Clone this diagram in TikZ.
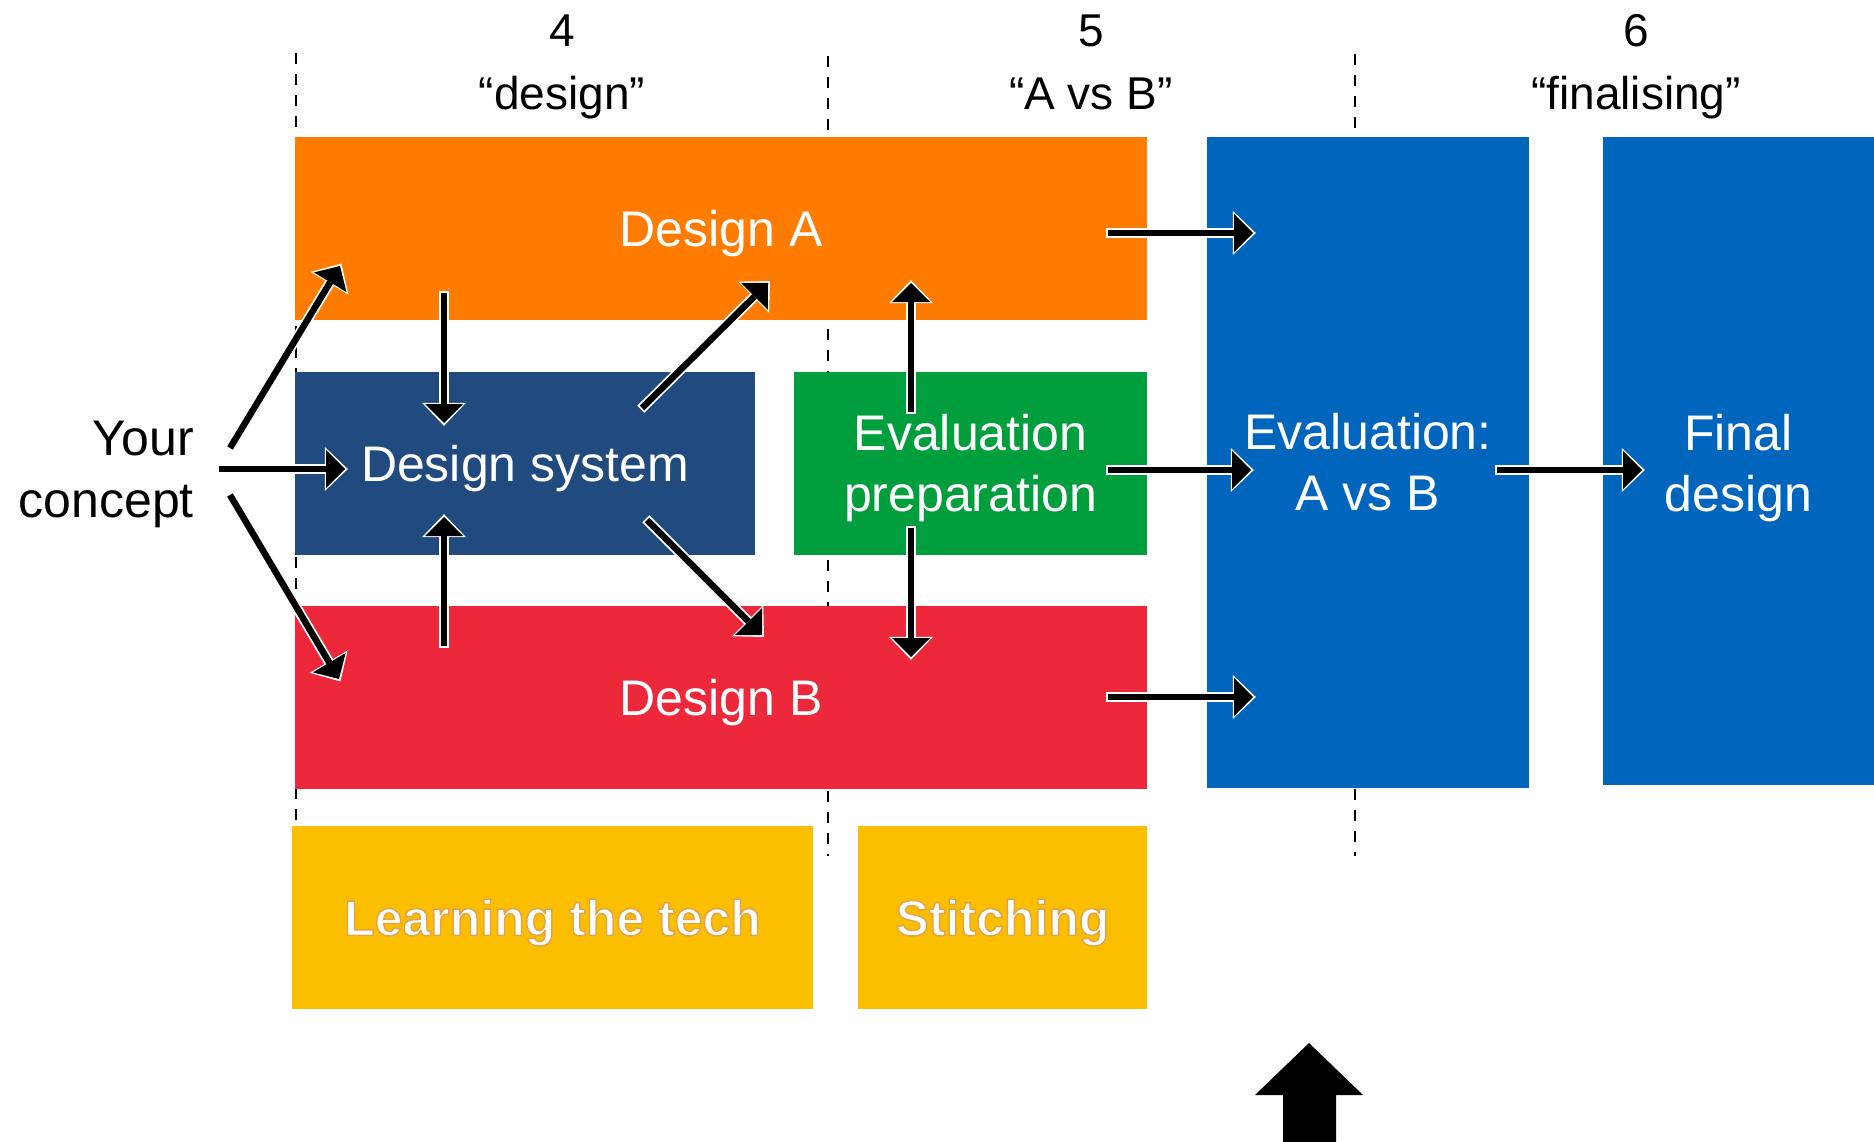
\documentclass[tikz,border=0pt]{standalone}
\usepackage{fontspec}
\setmainfont{Liberation Sans}
\usetikzlibrary{arrows.meta}

\definecolor{cOrange}{HTML}{FF7C00}
\definecolor{cNavy}{HTML}{214A7E}
\definecolor{cGreen}{HTML}{009E3D}
\definecolor{cRed}{HTML}{EE283B}
\definecolor{cBlue}{HTML}{0065BD}
\definecolor{cYellow}{HTML}{FCBF00}

% raise the first line so the label sits a little lower in its block
\newcommand\liftto[1]{\rule{0pt}{#1}}
% keep descender room on the last line of a heading
\newcommand\lowroom{\rule[-10pt]{0pt}{10pt}}
% white lettering with a thin warm outline
\newcommand\outlined[1]{\special{pdf:literal direct 0.9 0.64 0.28 RG 2 Tr 1.5 w}#1\special{pdf:literal direct 0 Tr}}

\tikzset{
  box/.style={inner sep=0pt, outer sep=0pt, draw=none, text=white,
    align=center, font=\fontsize{50}{52}\selectfont},
  tag/.style={inner sep=0pt, outer sep=0pt, text=black, align=center,
    font=\fontsize{46}{63}\selectfont},
  phase/.style={draw=black, line width=2.5pt, dash pattern=on 11pt off 10pt},
  flow/.style={draw=black, line width=6.5pt, line cap=butt,
    -{Triangle[width=38pt,length=19pt,line width=0pt]},
    preaction={draw=white, line width=10pt, line cap=butt,
      shorten <=-1.7pt, shorten >=-2.8pt,
      -{Triangle[width=44pt,length=23pt,line width=0pt]}}},
}

\begin{document}
\begin{tikzpicture}[x=1pt, y=-1pt]
\path[use as bounding box] (0,0) rectangle (1874,1142);

% phase boundaries
\coordinate (p1t) at (296,53);   \coordinate (p1b) at (296,822);
\coordinate (p2t) at (828,56);   \coordinate (p2b) at (828,856);
\coordinate (p3t) at (1355,54);  \coordinate (p3b) at (1355,856);
\draw[phase] (p1t) -- (p1b);
\draw[phase] (p2t) -- (p2b);
\draw[phase] (p3t) -- (p3b);

% phase headings
\node[tag] (h4) at (562,67) {4\\“design”\lowroom};
\node[tag] (h5) at (1091,67) {5\\“A vs B”\lowroom};
\node[tag] (h6) at (1636,67) {6\\“finalising”\lowroom};

% work blocks
\node[box, fill=cOrange, minimum width=852pt, minimum height=183pt] (da) at (721,228.5) {\liftto{46.5pt}Design A};
\node[box, fill=cNavy, minimum width=460pt, minimum height=183pt] (ds) at (525,463.5) {\liftto{46.5pt}Design system};
\node[box, fill=cGreen, minimum width=353pt, minimum height=183pt] (ep) at (970.5,463.5) {\liftto{45.5pt}Evaluation\\[9pt]preparation};
\node[box, fill=cRed, minimum width=852pt, minimum height=183pt] (db) at (721,697.5) {\liftto{46.5pt}Design B};
\node[box, fill=cBlue, minimum width=322pt, minimum height=651pt] (ev) at (1368,462.5) {Evaluation:\\[9pt]A vs B};
\node[box, fill=cBlue, minimum width=271pt, minimum height=648pt] (fd) at (1738.5,461) {\liftto{49.5pt}Final\\[9pt]design};
\node[box, fill=cYellow, minimum width=521pt, minimum height=183pt,
      font=\fontsize{50}{52}\selectfont\bfseries] (lt) at (552.5,917.5) {\liftto{46.5pt}\outlined{Learning the tech}};
\node[box, fill=cYellow, minimum width=289pt, minimum height=183pt,
      font=\fontsize{50}{52}\selectfont\bfseries] (st) at (1002.5,917.5) {\liftto{46.5pt}\outlined{Stitching}};

% starting point
\node[inner sep=0pt, align=right, anchor=east, font=\fontsize{50}{62}\selectfont] (yc) at (194,474) {Your\\concept};

% connector end points
\coordinate (c1s) at (230,448);   \coordinate (c1e) at (340,266);
\coordinate (c2s) at (219,469);   \coordinate (c2e) at (345,469);
\coordinate (c3s) at (230,495);   \coordinate (c3e) at (339,679);
\coordinate (c4s) at (444,293);   \coordinate (c4e) at (444,423);
\coordinate (c5s) at (444,646);   \coordinate (c5e) at (444,517);
\coordinate (c6s) at (642,408);   \coordinate (c6e) at (768,283);
\coordinate (c7s) at (647,520);   \coordinate (c7e) at (762,635);
\coordinate (c8s) at (911,412);   \coordinate (c8e) at (911,283);
\coordinate (c9s) at (911,528);   \coordinate (c9e) at (911,657);
\coordinate (c10s) at (1108,233); \coordinate (c10e) at (1253,233);
\coordinate (c11s) at (1108,470); \coordinate (c11e) at (1251,470);
\coordinate (c12s) at (1108,697); \coordinate (c12e) at (1253,697);
\coordinate (c13s) at (1497,470); \coordinate (c13e) at (1642,470);

\foreach \i in {1,...,13} {
  \draw[flow] (c\i s) -- (c\i e);
}

% block arrow pointing up at the evaluation
\coordinate (ua1) at (1309,1043);
\fill[black] (ua1) -- (1363,1095) -- (1336,1095) -- (1336,1142)
  -- (1283,1142) -- (1283,1095) -- (1255,1095) -- cycle;
\end{tikzpicture}
\end{document}
